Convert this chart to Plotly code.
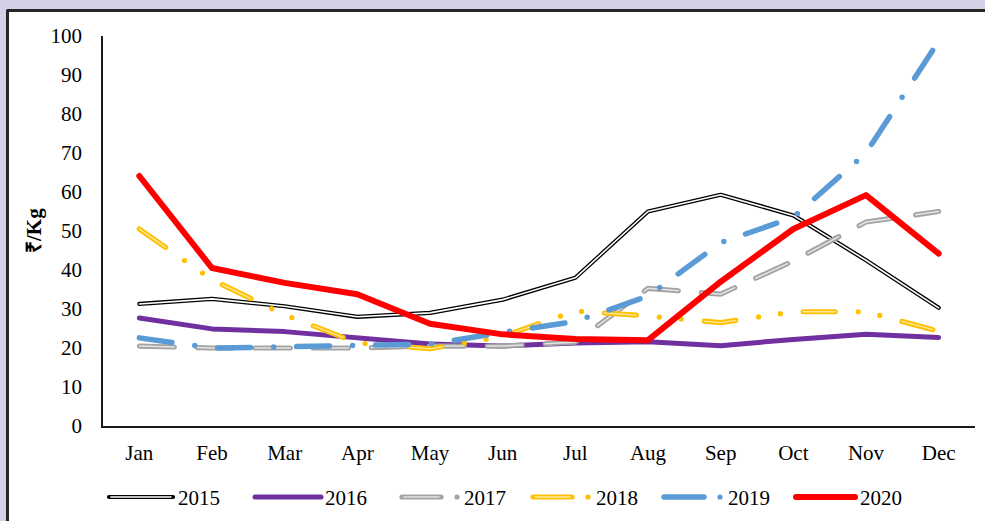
import plotly.graph_objects as go

# Monthly prices (₹/Kg), one list per year
months = ["Jan", "Feb", "Mar", "Apr", "May", "Jun",
          "Jul", "Aug", "Sep", "Oct", "Nov", "Dec"]
v2015 = [31.3, 32.6, 30.7, 28.0, 29.0, 32.4, 38.0, 55.0, 59.3, 54.0, 42.5, 30.3]
v2016 = [27.7, 24.9, 24.2, 22.5, 21.0, 20.5, 21.3, 21.6, 20.6, 22.2, 23.5, 22.7]
v2017 = [20.5, 20.0, 20.0, 20.0, 20.5, 20.5, 21.5, 35.3, 33.8, 42.3, 52.3, 55.0]
v2018 = [50.5, 37.5, 28.5, 21.3, 19.8, 23.0, 29.5, 28.2, 26.5, 29.3, 29.3, 24.3]
v2019 = [22.6, 20.0, 20.3, 20.8, 21.0, 24.0, 26.8, 33.3, 47.0, 53.5, 70.0, 98.7]
v2020 = [64.1, 40.5, 36.7, 33.8, 26.2, 23.5, 22.3, 22.0, 37.0, 50.5, 59.2, 44.2]
years = ["2015", "2016", "2017", "2018", "2019", "2020"]
yticks = [0, 10, 20, 30, 40, 50, 60, 70, 80, 90, 100]

FONT = "Liberation Serif"
WIDTH, HEIGHT = 985, 521
ML, MR, MT, MB = 103, 10, 36, 95
PW = WIDTH - ML - MR
PH = HEIGHT - MT - MB

PURPLE = "#7030a0"
GREY = "#a3a3a3"
GREY_IN = "#e4e4e4"
YELLOW = "#ffc000"
YELLOW_IN = "#ffe9a0"
BLUE = "#5b9bd5"
RED = "#ff0000"

# dash patterns drawn with round caps (each dash grows by the line width)
LG_DASH = "35px,23px"
LG_DASH_DOT = "33px,23px,0px,23px"
LG_DASH_DOT_DOT = "32px,23px,0px,22px,0px,23px"


def px_x(p):
    return (p - ML) / PW


def px_y(p):
    return (HEIGHT - MB - p) / PH


fig = go.Figure()


def add_line(y, color, width, dash="solid", name=None):
    fig.add_trace(go.Scatter(
        x=months, y=y, mode="lines", name=name, showlegend=False,
        line=dict(color=color, width=width, dash=dash),
        cliponaxis=False,
    ))


# 2015: double black line
add_line(v2015, "#000000", 4.2, name="2015")
add_line(v2015, "#ffffff", 1.6)
# 2016: solid purple
add_line(v2016, PURPLE, 5, name="2016")
# 2017: grey compound long dash
add_line(v2017, GREY, 5.2, LG_DASH, name="2017")
add_line(v2017, GREY_IN, 1.5, LG_DASH)
# 2018: yellow compound long dash-dot-dot
add_line(v2018, YELLOW, 5.2, LG_DASH_DOT_DOT, name="2018")
add_line(v2018, YELLOW_IN, 1.3, "32px,68px")
# 2019: blue long dash-dot
add_line(v2019, BLUE, 5.5, LG_DASH_DOT, name="2019")
# 2020: solid red
add_line(v2020, RED, 6, name="2020")

shapes = []
# white panel with dark frame on lavender page
shapes.append(dict(type="rect", xref="paper", yref="paper", layer="below",
                   x0=px_x(7.5), x1=px_x(1000), y0=px_y(540), y1=px_y(10.5),
                   fillcolor="#ffffff", line=dict(color="#262626", width=3)))

# custom legend
LEG_Y = 497
annotations = []


def seg(x0, x1, color, width, dash="solid"):
    shapes.append(dict(type="line", xref="paper", yref="paper",
                       x0=px_x(x0), x1=px_x(x1), y0=px_y(LEG_Y), y1=px_y(LEG_Y),
                       line=dict(color=color, width=width, dash=dash)))


def dot(cx, color, r=2.6):
    shapes.append(dict(type="circle", xref="paper", yref="paper",
                       x0=px_x(cx - r), x1=px_x(cx + r),
                       y0=px_y(LEG_Y + r), y1=px_y(LEG_Y - r),
                       fillcolor=color, line=dict(width=0)))


def label(x, text):
    annotations.append(dict(xref="paper", yref="paper", x=px_x(x), y=px_y(LEG_Y + 1),
                            xanchor="left", yanchor="middle", showarrow=False,
                            text=text, font=dict(family=FONT, size=21, color="#000000")))


seg(109, 173, "#000000", 4.2)
seg(111, 171, "#ffffff", 1.6)
label(176, years[0])

seg(255, 321, PURPLE, 5)
label(323, years[1])

seg(402, 441, GREY, 5.2)
seg(404, 439, GREY_IN, 1.5)
dot(457, GREY)
label(462, years[2])

seg(533, 572, YELLOW, 5.2)
seg(535, 570, YELLOW_IN, 1.3)
dot(588, YELLOW)
label(594, years[3])

seg(664, 704, BLUE, 5.5)
dot(720, BLUE)
label(726, years[4])

seg(796, 855, RED, 6)
label(858, years[5])

# y-axis title
annotations.append(dict(xref="paper", yref="paper", x=px_x(34), y=px_y(231),
                        xanchor="center", yanchor="middle", showarrow=False,
                        textangle=-90, text="<b>₹/Kg</b>",
                        font=dict(family=FONT, size=21, color="#000000")))

fig.update_layout(
    width=WIDTH, height=HEIGHT,
    margin=dict(l=ML, r=MR, t=MT, b=MB, pad=0),
    paper_bgcolor="#d6d0e6",
    plot_bgcolor="rgba(0,0,0,0)",
    shapes=shapes,
    annotations=annotations,
    showlegend=False,
    font=dict(family=FONT, size=21, color="#000000"),
    xaxis=dict(
        type="category", range=[-0.5, 11.5], showgrid=False, zeroline=False,
        showline=True, linecolor="#1a1a1a", linewidth=1.6,
        ticks="", tickfont=dict(family=FONT, size=21, color="#000000"),
        ticklabelstandoff=7,
    ),
    yaxis=dict(
        range=[0, 100], tickvals=yticks, showgrid=False, zeroline=False,
        showline=True, linecolor="#1a1a1a", linewidth=1.6,
        ticks="", tickfont=dict(family=FONT, size=21, color="#000000"),
        ticklabelstandoff=15,
    ),
)

# rounded line ends and joins for the series lines and legend strokes
round_caps = """
var st = document.createElement('style');
st.textContent = '.scatterlayer .js-line, .shapelayer path {stroke-linecap: round; stroke-linejoin: round;}';
document.head.appendChild(st);
"""

fig.write_html("out.html", post_script=round_caps)
